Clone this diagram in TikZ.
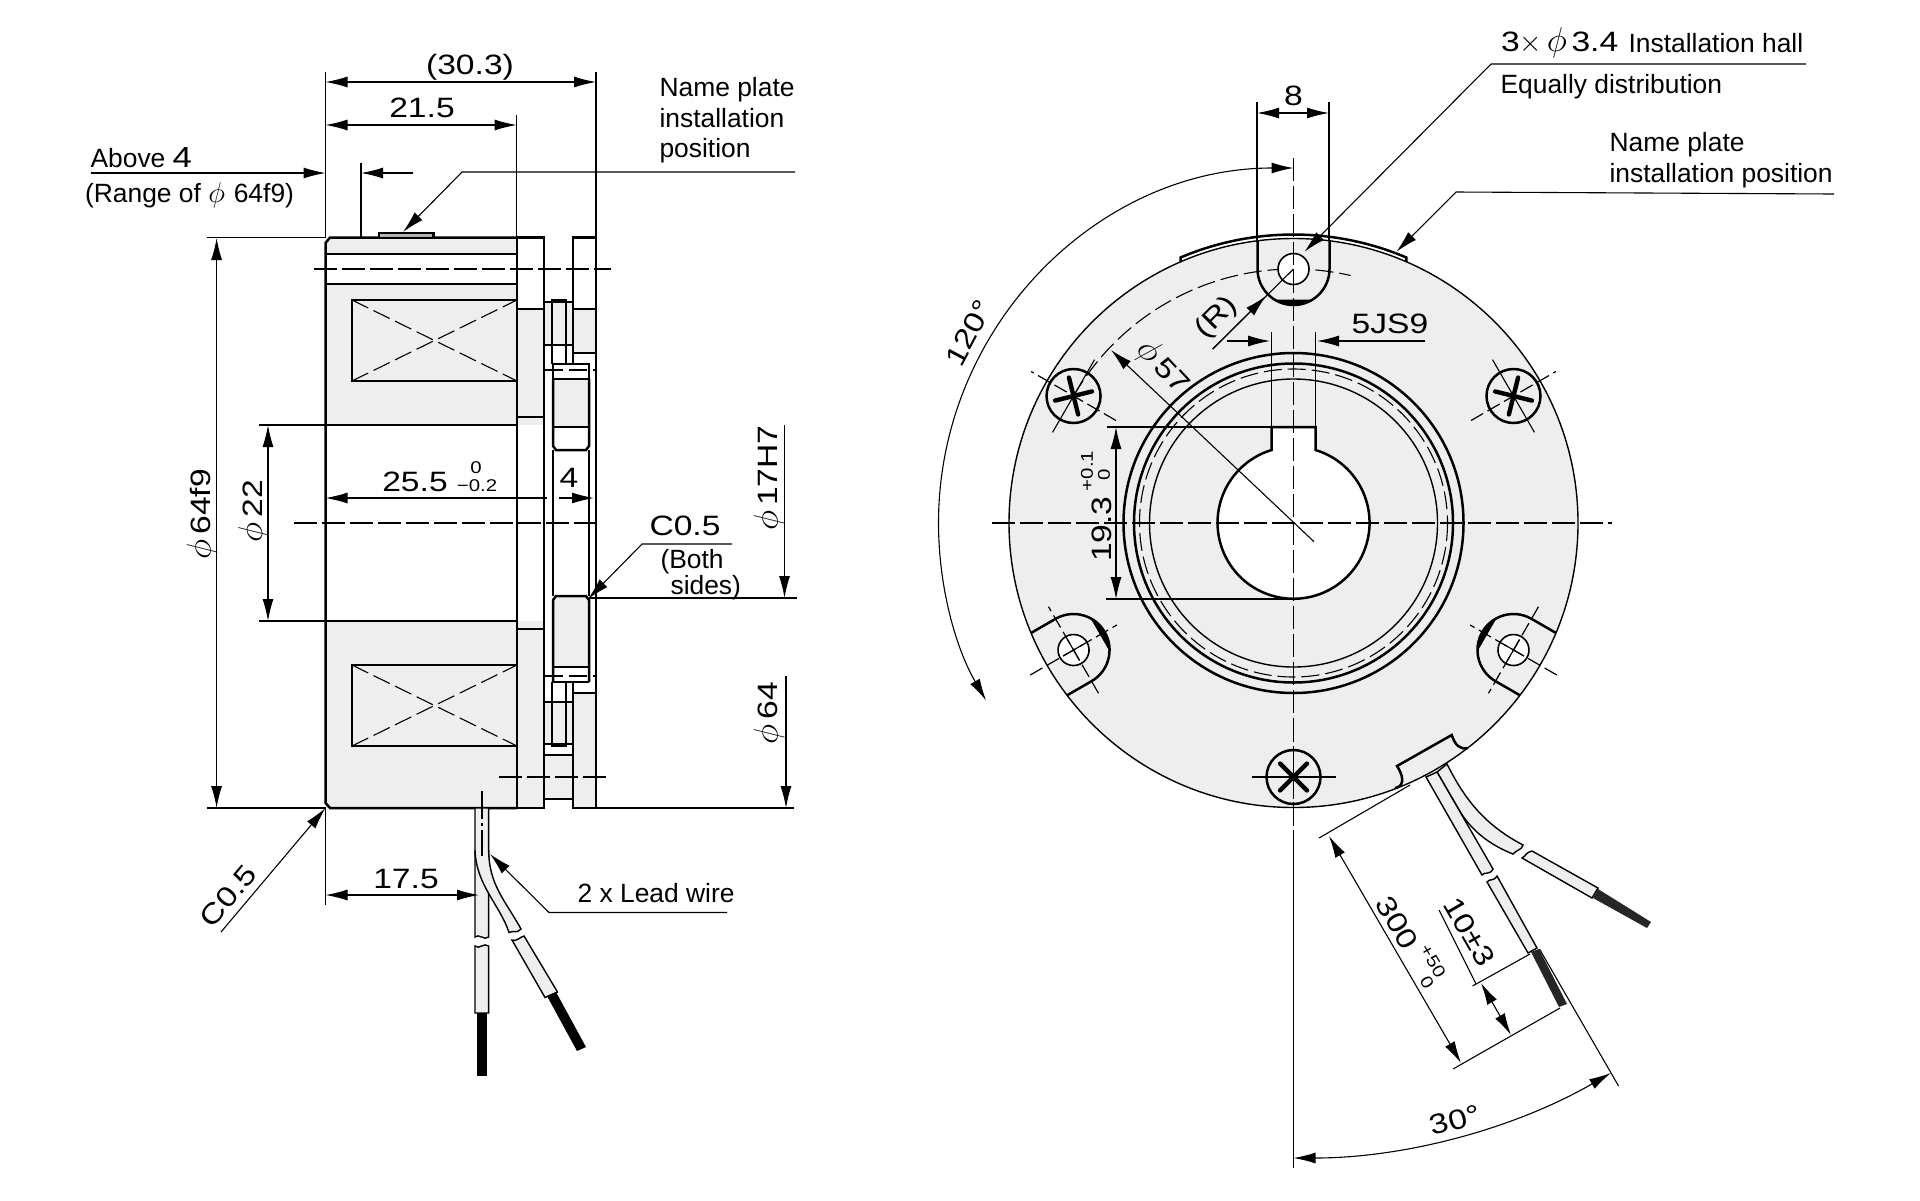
\documentclass[tikz,border=0pt]{standalone}
\usepackage{fontspec}
\usepackage{tikz}
\usetikzlibrary{arrows.meta}
\setmainfont{Liberation Sans}
\newfontfamily\widefam[FakeStretch=1.2]{Liberation Sans}
\definecolor{partgray}{HTML}{EEEEEE}
\newcommand{\dia}{{\fontsize{17}{17}\selectfont$\phi$}}
\newcommand{\diasmall}{{\fontsize{15}{15}\selectfont$\phi$}}
\tikzset{
  thk/.style={line width=1.25pt},
  thn/.style={line width=.55pt},
  chain/.style={line width=.6pt,dash pattern=on 11.5pt off 2.5pt},
  shortchain/.style={line width=.6pt,dash pattern=on 7pt off 2.5pt},
  hidden/.style={line width=.55pt,dash pattern=on 9pt off 3pt},
  dimtxt/.style={font=\widefam\fontsize{14}{16}\selectfont,inner sep=0pt},
  notetxt/.style={font=\fontsize{13.2}{15}\selectfont,inner sep=0pt,anchor=base west},
  tinytxt/.style={font=\widefam\fontsize{8.5}{10}\selectfont,inner sep=0pt},
  wirepart/.style={fill=partgray,draw=black,line width=.7pt},
}
\begin{document}
\begin{tikzpicture}[x=.5pt,y=-.5pt,line width=.55pt,>={Latex[length=11pt,width=5.5pt]}]
    \useasboundingbox (0,0) rectangle (1920,1200);
    % side view, gray areas
    \fill [partgray] (325.5,237.5) rectangle (517,254);
    \fill [partgray] (325.5,284) rectangle (517,425);
    \fill [partgray] (325.5,621) rectangle (517,808);
    \fill [partgray] (517,309) rectangle (544,425);
    \fill [partgray] (517,621) rectangle (544,808);
    \fill [partgray] (573,309) rectangle (596,353);
    \fill [partgray] (573,693) rectangle (596,808);
    \fill [partgray] (544,302) rectangle (573,345);
    \fill [partgray] (544,702) rectangle (573,744);
    \fill [partgray] (544,755) rectangle (573,799);
    \fill [partgray] (553,379) rectangle (589,427);
    \fill [partgray] (553,598) rectangle (589,667);
    % side view, body
    \draw [thk] (517,237.5) -- (330,237.5) -- (325.5,243) -- (325.5,803) -- (330,808) -- (517,808);
    \draw [thk] (325.5,254) -- (517,254);
    \draw [thk] (325.5,284) -- (517,284);
    \draw [thk] (325.5,425) -- (517,425);
    \draw [thk] (325.5,621) -- (517,621);
    \draw [thk] (517,300) -- (352,300) -- (352,381) -- (517,381);
    \draw [thk] (517,665) -- (352,665) -- (352,746) -- (517,746);
    \draw [hidden] (352,300) -- (517,381);
    \draw [hidden] (352,381) -- (517,300);
    \draw [hidden] (352,665) -- (517,746);
    \draw [hidden] (352,746) -- (517,665);
    % side view, plates
    \draw [thk] (517,237.5) rectangle (544,808);
    \draw [thk] (517,309) -- (544,309);
    \draw [thk] (517,417) -- (544,417);
    \draw [thk] (517,629) -- (544,629);
    \draw [thk] (573,237.5) rectangle (596,353);
    \draw [thk] (573,309) -- (596,309);
    \draw [thk] (573,693) rectangle (596,808);
    \draw [line width=.8pt] (596,353) -- (596,693);
    \draw [thk] (573,353) -- (573,364);
    \draw [thk] (573,682) -- (573,693);
    \draw [thk] (544,302) -- (573,302);
    \draw [thk] (544,345) -- (573,345);
    \draw [thk] (544,702) -- (573,702);
    \draw [thk] (544,744) -- (573,744);
    \draw [thk] (552,364) -- (552,300) -- (566,300) -- (566,364);
    \draw [thk] (552,682) -- (552,746) -- (566,746) -- (566,682);
    \draw [thk] (544,755) -- (573,755);
    \draw [thk] (544,799) -- (573,799);
    % side view, inner ring
    \draw [thk] (553,364) rectangle (589,379);
    \draw [thk] (553,379) -- (553,446) -- (556,450) -- (586,450) -- (589,446) -- (589,379);
    \draw [thk] (553,427) -- (589,427);
    \draw [thk] (553,682) -- (553,600) -- (556,596) -- (586,596) -- (589,600) -- (589,682);
    \draw [thk] (553,667) -- (589,667);
    \draw [thk] (553,682) -- (589,682);
    \draw [thk] (553,450) -- (553,596);
    \draw [thk] (589,450) -- (589,596);
    % name plate
    \draw [thk,fill=gray!60] (379,238) rectangle (433.5,233);
    % side view, center lines
    \draw [chain] (294,523) -- (601,523);
    \draw [chain] (314,269) -- (611,269);
    \draw [chain] (499,777) -- (606,777);
    \draw [hidden] (545,370) -- (596,370);
    \draw [hidden] (545,676) -- (596,676);
    % side view, lead wires
    \draw [wirepart] (475,808) -- (475,937) .. controls (479,933) and (484,941) .. (488.6,937) -- (488.6,808) -- cycle;
    \draw [wirepart] (475,946) .. controls (479,950) and (484,942) .. (488.6,946) -- (488.6,1013) -- (475,1013) -- cycle;
    \fill [black] (477,1013) rectangle (486.6,1076);
    \draw [wirepart] (475,850) .. controls (476,885) and (500,905) .. (509,932.5) .. controls (513,930) and (517,934) .. (521,929) .. controls (505,900) and (489,885) .. (488.6,850);
    \draw [wirepart] (512,940) .. controls (516,942) and (520,937) .. (524,936) -- (557.5,992) -- (545,997.5) -- cycle;
    \fill [black] (547,996) -- (556,992) -- (586,1047) -- (577,1051) -- cycle;
    \draw [chain,dash pattern=on 14pt off 2pt on 1.5pt off 2pt] (482,791) -- (482,856);
    % side view, dimensions
    \draw (325.5,72) -- (325.5,238);
    \draw (596,72) -- (596,238);
    \draw (516.6,115) -- (516.6,238);
    \draw (361,163) -- (361,237);
    \draw (207,237.5) -- (325.5,237.5);
    \draw (207,808) -- (325.5,808);
    \draw (259,425) -- (325.5,425);
    \draw (259,621) -- (325.5,621);
    \draw (325.5,808) -- (325.5,905);
    \draw (589,598) -- (797,598);
    \draw (596,808) -- (794,808);
    \draw [<->] (325.5,82) -- (596,82);
    \draw [<->] (325.5,125) -- (516.6,125);
    \draw [->] (90.5,173) -- (325.5,173);
    \draw [->] (413,173) -- (361,173);
    \draw [<->] (216.6,238) -- (216.6,808);
    \draw [<->] (268,425) -- (268,621);
    \draw [<-] (325.5,498) -- (547,498);
    \draw [->] (559,498) -- (594,498);
    \draw [->] (784.5,425) -- (784.5,598);
    \draw [->] (786,676) -- (786,808);
    \draw [<->] (325.5,895) -- (479,895);
    \draw [<-] (403,232) -- (462,172) -- (795,172);
    \draw [<-] (588,599) -- (642,544) -- (732,544);
    \draw [<-] (325.5,808) -- (221,932);
    \draw [<-] (490,854) -- (549,912.5) -- (727,912.5);
    % side view, labels
    \node [dimtxt] (overall) at (470,67) {(30.3)};
    \node [dimtxt] (flange) at (422,108) {21.5};
    \node [notetxt] (above) at (90,167) {Above {\widefam\fontsize{14.5}{16}\selectfont 4}};
    \node [notetxt] (range) at (84.5,202) {(Range of \diasmall\,\,64f9)};
    \node [notetxt] (plateA) at (659,96) {Name plate};
    \node [notetxt] (plateB) at (659,127) {installation};
    \node [notetxt] (plateC) at (659,157) {position};
    \node [dimtxt,rotate=90] (outer) at (202,514) {\dia\,64f9};
    \node [dimtxt,rotate=90] (bore) at (253.5,511) {\dia\,22};
    \node [dimtxt] (length) at (415,482) {25.5};
    \node [tinytxt] (upper) at (476,468) {0};
    \node [tinytxt] (lower) at (477,486) {−0.2};
    \node [dimtxt] (gap) at (569,478) {4};
    \node [dimtxt,rotate=90] (shaft) at (769,478) {\dia\,17H7};
    \node [dimtxt,rotate=90] (dia) at (769,713) {\dia\,64};
    \node [dimtxt] (chamfer) at (685,526) {C0.5};
    \node [notetxt] (both) at (660,568) {(Both};
    \node [notetxt] (sides) at (670,594) {sides)};
    \node [dimtxt,rotate=50] (chamferB) at (228,896) {C0.5};
    \node [dimtxt] (wirepos) at (406,879) {17.5};
    \node [notetxt] (leads) at (577,902.5) {2 x Lead wire};
    % front view, gray areas and outline
    \begin{scope}[shift={(1293.5,523)}]
      \fill [partgray] (0,0) circle [radius=284.5];
      \draw [line width=.7pt] (0,0) circle [radius=284.5];
      \draw [thk] (-113,-261) -- (-113,-265.5) arc [start angle=-113,end angle=-67,radius=289] -- (113,-261);
      \draw [hidden] (-150:254) arc [start angle=-150,end angle=-77,radius=254];
      % hub
      \draw [thk] (0,0) circle [radius=170];
      \draw [thk] (0,0) circle [radius=159.5];
      \draw [hidden] (0,0) circle [radius=154];
      \draw [line width=.7pt] (0,0) circle [radius=144];
      \draw [thk,fill=white] (-22,-96) -- (22,-96) -- (22,-73) arc [start angle=-73.2,end angle=253.2,radius=76] -- cycle;
      % slots round the holes
      \foreach \ang in {0,120,-120}{
        \begin{scope}[rotate=\ang]
          \draw [thk] (-36,-282) -- (-36,-254) arc [start angle=180,end angle=0,radius=36] -- (36,-282);
          \fill [black] (122:36) ++(0,-254) arc [start angle=122,end angle=58,radius=36] -- cycle;
          \draw [line width=.8pt,fill=white] (0,-254) circle [radius=15.5];
        \end{scope}
      }
      \foreach \ang in {120,-120}{
        \begin{scope}[rotate=\ang]
          \draw [shortchain] (0,-304) -- (0,-204);
          \draw [shortchain] (-50,-254) -- (50,-254);
          \draw (0,-266) -- (0,-242);
          \draw (-12,-254) -- (12,-254);
        \end{scope}
      }
      % screws
      \foreach \ang/\tilt in {150/14,30/-14,270/45}{
        \begin{scope}[shift={(-\ang:254)}]
          \draw [thk] (0,0) circle [radius=27];
          \begin{scope}[rotate=\ang]
            \draw [shortchain] (-49,0) -- (49,0);
            \draw [thn] (0,-42) -- (0,42);
          \end{scope}
          \begin{scope}[rotate=\tilt]
            \draw [line width=2.2pt,line cap=round] (-19,0) -- (19,0);
            \draw [line width=2.2pt,line cap=round] (0,-19) -- (0,19);
          \end{scope}
        \end{scope}
      }
      % center lines
      \draw [chain] (-301.5,0) -- (318.5,0);
      \draw [chain] (0,-365) -- (0,320);
      \draw (0,320) -- (0,645);
      % angle arcs
      \draw [<->] (-90:355) arc [start angle=-90,end angle=-210,radius=355];
      \draw [<->] (90:635) arc [start angle=90,end angle=60,radius=635];
      \draw (60:492) -- (60:650);
    \end{scope}
    % front view, wire housing
    \draw [thk] (1395,788) .. controls (1402,787) and (1406,780) .. (1397,766) -- (1451.7,735) .. controls (1455,745) and (1460,750) .. (1468,748);
    % front view, lead wires
    \draw [wirepart] (1437,772) -- (1447,764) .. controls (1465,800) and (1485,825) .. (1523,845) .. controls (1522,850) and (1516,850) .. (1513,854) .. controls (1490,845) and (1470,830) .. (1458,808) -- cycle;
    \draw [wirepart] (1426,777) -- (1482,875) .. controls (1485,871) and (1489,876) .. (1493,869) -- (1437,772) -- cycle;
    \draw [wirepart] (1487,882) .. controls (1490,878) and (1493,882) .. (1497,876) -- (1537,948) -- (1528,953) -- cycle;
    \draw [wirepart] (1522,858) .. controls (1526,856) and (1526,852) .. (1532,851) -- (1598,888) -- (1592,898) -- cycle;
    \fill [black!85] (1531,952) -- (1539,949) -- (1567,1004) -- (1559,1007) -- cycle;
    \fill [black!85] (1593,898) -- (1598,889) -- (1651,922) -- (1647,928) -- cycle;
    % front view, dimensions
    \draw (1257,102) -- (1257,240);
    \draw (1329,102) -- (1329,240);
    \draw (1271.5,332) -- (1271.5,427);
    \draw (1315.5,332) -- (1315.5,427);
    \draw [thk] (1107,427) -- (1316,427);
    \draw (1106,599) -- (1293,599);
    \draw [<->] (1257,113) -- (1329,113);
    \draw [->] (1227,341) -- (1270,341);
    \draw [->] (1425,341) -- (1317,341);
    \draw [<->] (1116,427) -- (1116,599);
    \draw [<-] (1111,350) -- (1314,541.7);
    \draw (1212.7,349) -- (1293.5,269);
    \draw [<-] (1266,296) -- (1212.7,349);
    \draw [<-] (1304.5,251.7) -- (1491,64) -- (1806,64);
    \draw [<-] (1396.4,251.7) -- (1456,192) -- (1834,194);
    \draw (1530,954) -- (1472.5,986);
    \draw (1560,1008) -- (1453,1069);
    \draw (1439,910) -- (1476,984);
    \draw [<->] (1481,983) -- (1511,1035);
    \draw (1410,785) -- (1319,838);
    \draw [<->] (1329,836) -- (1461,1063);
    % front view, labels
    \node [dimtxt] (slotw) at (1293.5,96) {8};
    \node [dimtxt,anchor=west] (holes) at (1500.5,43) {3$\times$\,\dia\,3.4};
    \node [notetxt] (holesB) at (1628,52) {Installation hall};
    \node [notetxt] (holesC) at (1500,93) {Equally distribution};
    \node [notetxt] (plateD) at (1609,151) {Name plate};
    \node [notetxt] (plateE) at (1609,182) {installation position};
    \node [dimtxt] (keyw) at (1390,324) {5JS9};
    \node [dimtxt,rotate=45] (radius) at (1217,318) {(R)};
    \node [dimtxt,rotate=-47] (pitch) at (1163,367) {\dia\,57};
    \node [dimtxt,rotate=62] (third) at (969,333) {120°};
    \node [dimtxt,rotate=90] (keyh) at (1102,529) {19.3};
    \node [tinytxt,rotate=90] (keyu) at (1087,471) {+0.1};
    \node [tinytxt,rotate=90] (keyl) at (1104,475) {0};
    \node [dimtxt,rotate=-60] (wirelen) at (1397,923) {300};
    \node [tinytxt,rotate=-60] (wireu) at (1433,961) {+50};
    \node [tinytxt,rotate=-60] (wirel) at (1427,982) {0};
    \node [dimtxt,rotate=-60] (strip) at (1469.5,932) {10±3};
    \node [dimtxt,rotate=15] (wireang) at (1455,1120) {30°};
  \end{tikzpicture}
\end{document}
